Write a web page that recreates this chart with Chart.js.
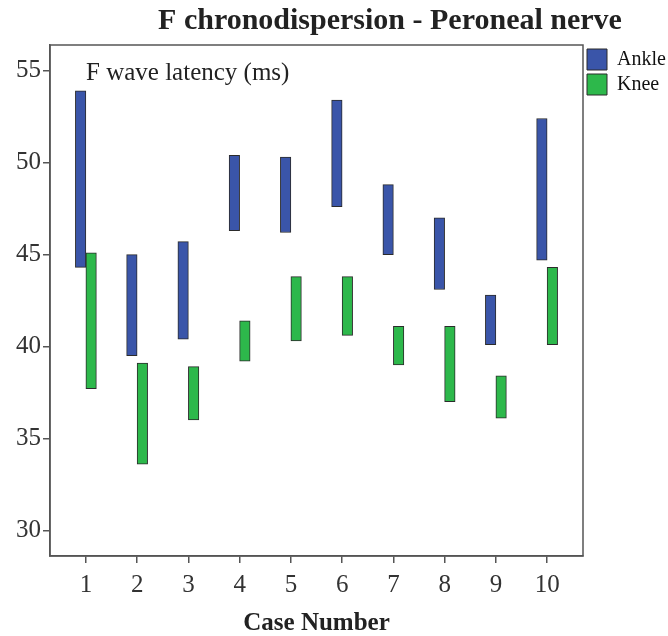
<!DOCTYPE html>
<html>
<head>
<meta charset="utf-8">
<script src="https://cdn.jsdelivr.net/npm/chart.js@4/dist/chart.umd.min.js"></script>
<style>
  html, body { margin: 0; padding: 0; background: #fff; }
  #wrap { width: 668px; height: 636px; }
</style>
</head>
<body>
<div id="wrap"><canvas id="chart1"></canvas></div>
<script>
// case numbers and F wave latency ranges (ms), min / max per case
var casos = [1, 2, 3, 4, 5, 6, 7, 8, 9, 10];
var ankleMin = [44.3, 39.5, 40.4, 46.3, 46.2, 47.6, 45.0, 43.1, 40.1, 44.7];
var ankleMax = [53.9, 45.0, 45.7, 50.4, 50.3, 53.4, 48.8, 47.0, 42.8, 52.4];
var kneeMin = [37.7, 33.6, 36.0, 39.2, 40.3, 40.6, 39.0, 37.0, 36.1, 40.1];
var kneeMax = [45.1, 39.1, 38.9, 41.4, 43.8, 43.8, 41.1, 41.1, 38.4, 44.3];
var yTicks = [30, 35, 40, 45, 50, 55];

var serif = '"Liberation Serif", "DejaVu Serif", serif';

function rangos(mins, maxs){
    var out = [];
    for (var i = 0; i < casos.length; i++){
        out.push({ x: casos[i], y: [mins[i], maxs[i]] });
    }
    return out;
}

// frame, title and in-plot label
var textos = {
    id: 'textos',
    afterDraw: function(chart){
        var ctx = chart.ctx;
        var a = chart.chartArea;
        ctx.save();
        ctx.strokeStyle = '#555';
        ctx.lineWidth = 1.5;
        ctx.strokeRect(a.left, a.top, a.right - a.left, a.bottom - a.top);
        ctx.fillStyle = '#222';
        ctx.textBaseline = 'middle';
        ctx.textAlign = 'center';
        ctx.font = 'bold 30px ' + serif;
        ctx.fillText('F chronodispersion - Peroneal nerve', 390, 21);
        ctx.textAlign = 'left';
        ctx.font = '25px ' + serif;
        ctx.fillText('F wave latency (ms)', 86, 73);
        ctx.restore();
    }
};

var config = {
    type: 'bar',
    data: {
        datasets: [{
            label: 'Ankle',
            data: rangos(ankleMin, ankleMax),
            backgroundColor: '#3a55a9',
            borderColor: '#2b2b2b',
            borderWidth: 1,
            borderSkipped: false,
            barThickness: 10.5
        }, {
            label: 'Knee',
            data: rangos(kneeMin, kneeMax),
            backgroundColor: '#2db84b',
            borderColor: '#2b2b2b',
            borderWidth: 1,
            borderSkipped: false,
            barThickness: 10.5
        }]
    },
    options: {
        responsive: true,
        maintainAspectRatio: false,
        animation: false,
        layout: { padding: { top: 45, right: 0, left: 0, bottom: 0 } },
        plugins: {
            title: { display: false },
            tooltip: { enabled: false },
            legend: {
                position: 'right',
                align: 'start',
                maxWidth: 85,
                labels: {
                    boxWidth: 20,
                    boxHeight: 21,
                    padding: 4,
                    color: '#111',
                    font: { family: serif, size: 20 }
                }
            }
        },
        scales: {
            x: {
                type: 'linear',
                min: 0.3,
                max: 10.7,
                offset: false,
                afterBuildTicks: function(scale){
                    scale.ticks = casos.map(function(v){ return { value: v }; });
                },
                afterFit: function(scale){ scale.height = 80; },
                grid: { offset: false, drawOnChartArea: false, drawTicks: true, tickLength: 7, color: '#555', lineWidth: 1.5 },
                border: { display: true, color: '#555', width: 1.5 },
                ticks: { color: '#333', font: { family: serif, size: 25 }, padding: 7 },
                title: {
                    display: true,
                    text: 'Case Number',
                    color: '#222',
                    font: { family: serif, size: 25, weight: 'bold' },
                    padding: { top: 12, bottom: -3 }
                }
            },
            y: {
                type: 'linear',
                min: 28.6,
                max: 56.4,
                afterBuildTicks: function(scale){
                    scale.ticks = yTicks.map(function(v){ return { value: v }; });
                },
                afterFit: function(scale){ scale.width = 50; },
                grid: { drawOnChartArea: false, drawTicks: true, tickLength: 7, color: '#555', lineWidth: 1.5 },
                border: { display: true, color: '#555', width: 1.5 },
                ticks: { color: '#333', font: { family: serif, size: 25 }, padding: 2 }
            }
        }
    },
    plugins: [textos]
};

var canvas = document.getElementById('chart1').getContext('2d');
window.grafico = new Chart(canvas, config);
</script>
</body>
</html>
